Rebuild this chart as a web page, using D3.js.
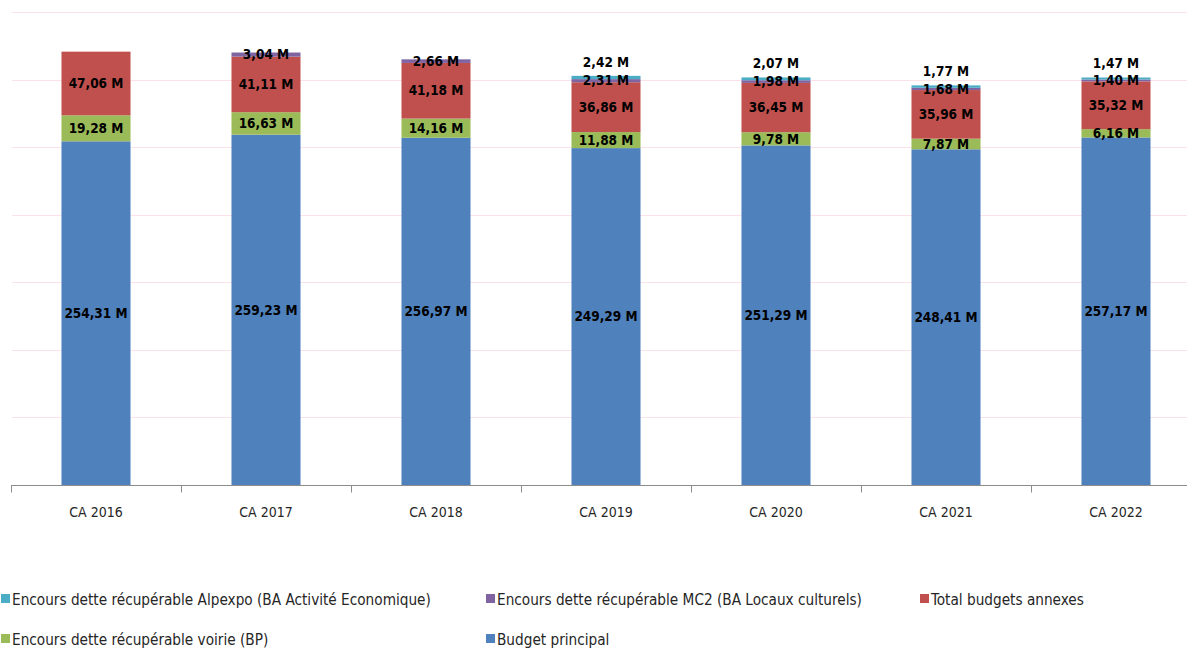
<!DOCTYPE html>
<html>
<head>
<meta charset="utf-8">
<script src="https://cdn.jsdelivr.net/npm/d3@7"></script>
<style>
  html, body { margin: 0; padding: 0; background: #fff; }
  svg { display: block; }
  text { font-family: "Liberation Sans Narrow", "DejaVu Sans Condensed", "Open Sans", sans-serif; }
</style>
</head>
<body>
<svg id="chart" width="1187" height="650"></svg>
<script>
// Encours de dette par compte administratif (millions d'euros)
const categories = ["CA 2016", "CA 2017", "CA 2018", "CA 2019", "CA 2020", "CA 2021", "CA 2022"];
const budgetPrincipal = [254.31, 259.23, 256.97, 249.29, 251.29, 248.41, 257.17];
const voirie = [19.28, 16.63, 14.16, 11.88, 9.78, 7.87, 6.16];
const budgetsAnnexes = [47.06, 41.11, 41.18, 36.86, 36.45, 35.96, 35.32];
const mc2 = [null, 3.04, 2.66, 2.31, 1.98, 1.68, 1.40];
const alpexpo = [null, null, null, 2.42, 2.07, 1.77, 1.47];
const yTicks = [50, 100, 150, 200, 250, 300, 350];

const seriesDefs = [
  { key: "bp", name: "Budget principal", values: budgetPrincipal, color: "#4F81BD" },
  { key: "voirie", name: "Encours dette récupérable voirie (BP)", values: voirie, color: "#9BBB59" },
  { key: "annexes", name: "Total budgets annexes", values: budgetsAnnexes, color: "#C0504D" },
  { key: "mc2", name: "Encours dette récupérable MC2 (BA Locaux culturels)", values: mc2, color: "#8064A2" },
  { key: "alpexpo", name: "Encours dette récupérable Alpexpo (BA Activité Economique)", values: alpexpo, color: "#4BACC6" }
];

const rows = categories.map((c, i) => {
  const r = { cat: c };
  seriesDefs.forEach(s => { r[s.key] = s.values[i] || 0; });
  return r;
});

const svg = d3.select("#chart");

const x = d3.scaleBand()
  .domain(categories)
  .range([11, 1201])
  .paddingInner(0.594)
  .paddingOuter(0.297);

const y = d3.scaleLinear().domain([0, 350]).range([485, 12]);

// horizontal gridlines
svg.append("g")
  .selectAll("line")
  .data(yTicks)
  .join("line")
  .attr("x1", 12).attr("x2", 1187)
  .attr("y1", d => Math.round(y(d)) + 0.5)
  .attr("y2", d => Math.round(y(d)) + 0.5)
  .attr("stroke", "#FBE1E8")
  .attr("stroke-width", 1);

const stack = d3.stack().keys(seriesDefs.map(s => s.key));
const stacked = stack(rows);

const layers = svg.append("g")
  .selectAll("g")
  .data(stacked)
  .join("g")
  .attr("fill", (d, i) => seriesDefs[i].color);

layers.selectAll("rect")
  .data(d => d)
  .join("rect")
  .attr("x", d => x(d.data.cat))
  .attr("width", x.bandwidth())
  .attr("y", d => y(d[1]))
  .attr("height", d => y(d[0]) - y(d[1]));

// x axis with tick marks between categories
const axisG = svg.append("g").attr("transform", "translate(0,485.5)");
axisG.append("line")
  .attr("x1", 11).attr("x2", 1187)
  .attr("stroke", "#8C8C8C");
const step = x.step();
axisG.selectAll("line.tick")
  .data(d3.range(categories.length + 1))
  .join("line")
  .attr("class", "tick")
  .attr("x1", i => Math.round(x.range()[0] + i * step) + 0.5)
  .attr("x2", i => Math.round(x.range()[0] + i * step) + 0.5)
  .attr("y1", 0).attr("y2", 7)
  .attr("stroke", "#8C8C8C");

axisG.selectAll("text.cat")
  .data(categories)
  .join("text")
  .attr("class", "cat")
  .attr("x", d => x(d) + x.bandwidth() / 2)
  .attr("y", 31)
  .attr("text-anchor", "middle")
  .attr("font-size", 14)
  .attr("fill", "#262626")
  .text(d => d);

// data labels
const fmt = v => d3.format(".2f")(v).replace(".", ",") + " M";
const labels = [];
stacked.forEach((layer, li) => {
  const key = seriesDefs[li].key;
  layer.forEach((d, i) => {
    const v = seriesDefs[li].values[i];
    if (v == null) return;
    let cy = (y(d[0]) + y(d[1])) / 2;
    // the topmost small segment gets its label above the bar
    if (key === "alpexpo") cy = y(d[1]) - 14;
    labels.push({ x: x(d.data.cat) + x.bandwidth() / 2, y: cy, text: fmt(v) });
  });
});

svg.append("g")
  .selectAll("text")
  .data(labels)
  .join("text")
  .attr("x", d => d.x)
  .attr("y", d => d.y)
  .attr("dy", "0.35em")
  .attr("text-anchor", "middle")
  .attr("font-size", 13.5)
  .attr("font-weight", "bold")
  .attr("fill", "#000")
  .text(d => d.text);

// legend
const legendItems = [
  { s: seriesDefs[4], col: 0, row: 0 },
  { s: seriesDefs[3], col: 1, row: 0 },
  { s: seriesDefs[2], col: 2, row: 0 },
  { s: seriesDefs[1], col: 0, row: 1 },
  { s: seriesDefs[0], col: 1, row: 1 }
];
const colX = [1, 486, 920];
const rowY = [594, 634];

const lg = svg.append("g")
  .selectAll("g")
  .data(legendItems)
  .join("g")
  .attr("transform", d => `translate(${colX[d.col]},${rowY[d.row]})`);
lg.append("rect")
  .attr("width", 9).attr("height", 9)
  .attr("fill", d => d.s.color);
lg.append("text")
  .attr("x", 11)
  .attr("y", 11)
  .attr("font-size", 15.2)
  .attr("fill", "#262626")
  .text(d => d.s.name);
</script>
</body>
</html>
